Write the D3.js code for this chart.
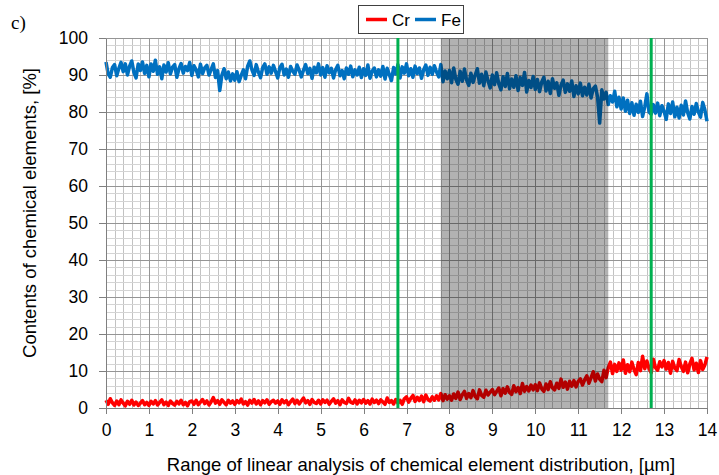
<!DOCTYPE html>
<html>
<head>
<meta charset="utf-8">
<script src="https://cdn.jsdelivr.net/npm/d3@7"></script>
<style>
  body { margin: 0; background: #fff; }
  svg { display: block; }
  text { font-family: "Liberation Sans", Arial, sans-serif; fill: #000; }
</style>
</head>
<body>
<div id="chart"></div>
<script>
// x positions run 0..14 um in steps of 0.05
var xStep = 0.05;

var feValues = [
  93.5, 90.3, 89.4, 92.0, 92.8, 89.8, 91.8, 93.4, 90.9, 93.0, 90.0, 92.4, 93.8, 90.7, 89.2, 93.0, 91.2, 93.5, 90.4, 92.6,
  89.5, 93.0, 91.0, 94.0, 90.2, 92.2, 89.0, 92.7, 90.8, 93.3, 90.3, 92.1, 92.8, 89.4, 91.7, 93.1, 90.5, 92.3, 91.2, 93.4,
  89.9, 92.5, 91.4, 89.5, 92.9, 90.4, 91.9, 92.6, 90.0, 91.5, 93.0, 89.3, 91.2, 85.8, 90.0, 91.7, 89.0, 90.8, 88.4, 90.3,
  88.6, 90.9, 88.2, 89.9, 91.4, 89.0, 92.4, 93.8, 91.4, 89.9, 92.8, 90.8, 89.3, 92.0, 93.0, 90.2, 92.2, 90.5, 92.6, 90.9,
  89.2, 92.0, 92.9, 90.0, 91.6, 89.4, 92.3, 91.0, 90.2, 92.7, 91.3, 89.5, 91.3, 92.8, 90.4, 91.8, 89.1, 92.1, 90.6, 93.0,
  90.0, 92.0, 89.4, 92.5, 90.6, 91.8, 89.2, 91.5, 92.6, 89.8, 91.2, 89.0, 91.9, 90.2, 92.4, 89.5, 91.4, 90.0, 92.1, 89.3,
  91.7, 89.9, 92.7, 89.1, 91.0, 91.9, 89.5, 91.4, 89.7, 92.3, 88.9, 91.8, 90.1, 88.5, 92.0, 90.3, 92.8, 89.2, 92.2, 90.5,
  93.0, 89.8, 91.7, 89.4, 92.4, 90.4, 91.9, 89.1, 91.4, 92.7, 89.9, 92.1, 90.2, 92.5, 90.8, 89.5, 92.8, 88.2, 91.1, 89.0,
  91.2, 87.9, 91.9, 88.8, 87.5, 91.0, 88.3, 91.6, 88.6, 87.2, 90.5, 88.0, 90.0, 91.7, 87.8, 90.2, 87.1, 90.8, 88.4, 86.5,
  90.0, 87.4, 90.6, 87.6, 86.0, 89.5, 86.9, 90.4, 86.3, 88.9, 86.7, 89.8, 85.8, 89.3, 87.2, 90.7, 85.4, 88.5, 86.6, 89.6,
  86.1, 88.8, 85.5, 88.1, 89.4, 85.7, 88.3, 85.0, 89.0, 86.4, 87.9, 84.5, 87.3, 88.6, 85.3, 87.6, 85.6, 88.4, 84.2, 87.1,
  84.9, 87.8, 84.4, 86.7, 84.6, 87.5, 83.8, 86.3, 87.0, 84.1, 77.0, 86.0, 83.5, 85.3, 82.0, 84.4, 82.7, 85.6, 81.4, 84.0,
  80.8, 83.8, 80.2, 83.2, 79.6, 82.5, 79.1, 82.1, 79.9, 82.9, 78.8, 81.4, 84.9, 80.0, 79.4, 82.0, 79.7, 82.4, 79.0, 81.7,
  80.2, 78.0, 82.2, 79.6, 82.7, 78.7, 81.3, 78.4, 81.8, 79.2, 83.0, 79.8, 78.1, 81.5, 79.4, 82.3, 80.0, 78.6, 82.6, 80.6,
  77.5
];

var crValues = [
  2.1, 1.0, 2.5, 1.4, 0.7, 1.9, 0.9, 2.2, 1.3, 0.6, 1.8, 1.0, 2.1, 0.8, 1.6, 0.7, 1.3, 2.0, 0.9, 1.5,
  0.7, 1.8, 1.1, 2.0, 0.8, 1.5, 2.2, 0.9, 1.6, 0.7, 1.9, 1.2, 0.8, 1.8, 1.1, 2.1, 0.9, 1.5, 0.6, 1.7,
  1.9, 1.0, 2.1, 0.9, 1.6, 2.3, 1.2, 1.9, 0.8, 1.7, 2.8, 1.3, 2.0, 1.0, 2.2, 1.5, 0.9, 2.1, 1.3, 1.9,
  1.0, 2.0, 1.4, 2.4, 1.1, 1.7, 0.8, 2.1, 1.3, 2.3, 1.1, 1.9, 0.9, 2.0, 1.4, 2.2, 1.0, 1.7, 2.1, 1.3,
  1.9, 1.0, 2.2, 1.4, 2.0, 0.9, 1.7, 2.4, 1.2, 2.1, 1.1, 1.9, 2.7, 1.4, 2.0, 1.0, 2.3, 1.5, 1.2, 2.1,
  1.1, 2.2, 1.5, 2.1, 1.0, 1.8, 2.5, 1.3, 2.0, 0.9, 2.2, 1.5, 1.2, 2.6, 1.6, 1.3, 2.2, 1.1, 2.1, 1.4,
  2.3, 1.3, 2.0, 1.1, 2.4, 1.5, 2.1, 1.2, 2.2, 1.6, 1.0, 2.7, 1.5, 2.0, 1.1, 2.3, 1.3, 2.1, 1.0, 2.5,
  3.0, 1.6, 2.6, 3.4, 1.8, 2.9, 2.0, 3.2, 1.7, 3.5, 2.3, 1.9, 3.0, 2.1, 3.3, 2.2, 3.9, 2.0, 3.6, 2.4,
  3.3, 2.1, 3.8, 2.6, 4.3, 2.3, 3.6, 4.5, 2.6, 3.9, 2.8, 4.7, 3.1, 2.5, 4.9, 3.4, 2.9, 4.8, 3.5, 4.3,
  5.0, 3.6, 4.5, 5.4, 3.3, 5.2, 4.0, 5.7, 4.2, 3.7, 6.0, 4.4, 5.5, 3.9, 6.6, 4.5, 5.8, 4.6, 6.2, 4.9,
  6.3, 4.7, 6.8, 5.2, 4.5, 6.5, 5.0, 7.1, 5.4, 4.9, 6.7, 5.3, 7.8, 5.6, 7.0, 5.1, 7.2, 5.9, 7.4, 5.7,
  7.2, 7.9, 6.2, 7.6, 8.7, 6.7, 8.2, 9.8, 7.3, 9.2, 7.8, 7.1, 10.2, 8.2, 10.9, 12.4, 9.3, 11.8, 9.9, 12.2,
  10.2, 13.0, 9.4, 11.7, 9.8, 12.4, 10.4, 9.0, 12.3, 10.1, 14.0, 10.6, 12.7, 10.7, 9.5, 13.2, 10.9, 10.2, 12.5, 11.1,
  12.8, 10.5, 12.3, 9.4, 12.6, 10.8, 10.1, 13.1, 11.2, 9.9, 12.4, 9.5, 11.9, 13.4, 10.3, 12.1, 9.6, 12.8, 10.4, 11.6,
  13.8
];

var xTicks = [0, 1, 2, 3, 4, 5, 6, 7, 8, 9, 10, 11, 12, 13, 14];
var yTicks = [0, 10, 20, 30, 40, 50, 60, 70, 80, 90, 100];
var greenLines = [6.8, 12.7];
var shadedZone = [7.8, 11.7];

var width = 719, height = 475;
var margin = { top: 38, right: 12, bottom: 67, left: 106 };

var svg = d3.select("#chart").append("svg")
  .attr("width", width)
  .attr("height", height);

var x = d3.scaleLinear().domain([0, 14]).range([margin.left, width - margin.right]);
var y = d3.scaleLinear().domain([0, 100]).range([height - margin.bottom, margin.top]);

// grid: minor first, major on top
var minorX = d3.range(0, 14.001, 0.2);
var minorY = d3.range(0, 100.001, 2);
var grid = svg.append("g").attr("shape-rendering", "crispEdges");

grid.selectAll(".minor-x").data(minorX).enter().append("line")
  .attr("x1", function (d) { return Math.round(x(d)) + 0.5; })
  .attr("x2", function (d) { return Math.round(x(d)) + 0.5; })
  .attr("y1", y(0)).attr("y2", y(100))
  .attr("stroke", "#c2c2c2");

grid.selectAll(".minor-y").data(minorY).enter().append("line")
  .attr("y1", function (d) { return Math.round(y(d)) + 0.5; })
  .attr("y2", function (d) { return Math.round(y(d)) + 0.5; })
  .attr("x1", x(0)).attr("x2", x(14))
  .attr("stroke", "#d4d4d4");

grid.selectAll(".major-x").data(xTicks).enter().append("line")
  .attr("x1", function (d) { return Math.round(x(d)) + 0.5; })
  .attr("x2", function (d) { return Math.round(x(d)) + 0.5; })
  .attr("y1", y(0)).attr("y2", y(100))
  .attr("stroke", "#959595");

grid.selectAll(".major-y").data(yTicks).enter().append("line")
  .attr("y1", function (d) { return Math.round(y(d)) + 0.5; })
  .attr("y2", function (d) { return Math.round(y(d)) + 0.5; })
  .attr("x1", x(0)).attr("x2", x(14))
  .attr("stroke", "#959595");

// data lines
function lineFor(values) {
  return d3.line()
    .x(function (d, i) { return x(i * xStep); })
    .y(function (d) { return y(d); })(values);
}

svg.append("path")
  .attr("d", lineFor(feValues))
  .attr("fill", "none")
  .attr("stroke", "#0070c0")
  .attr("stroke-width", 3.5)
  .attr("stroke-linejoin", "round");

svg.append("path")
  .attr("d", lineFor(crValues))
  .attr("fill", "none")
  .attr("stroke", "#ff0000")
  .attr("stroke-width", 3.5)
  .attr("stroke-linejoin", "round");

// shaded zone sits on top of the lines (darkens them)
svg.append("rect")
  .attr("x", x(shadedZone[0]))
  .attr("y", y(100))
  .attr("width", x(shadedZone[1]) - x(shadedZone[0]))
  .attr("height", y(0) - y(100))
  .attr("fill", "#000")
  .attr("fill-opacity", 0.3);

svg.selectAll(".green").data(greenLines).enter().append("line")
  .attr("x1", function (d) { return x(d); })
  .attr("x2", function (d) { return x(d); })
  .attr("y1", y(0)).attr("y2", y(100))
  .attr("stroke", "#00b050")
  .attr("stroke-width", 3);

// axes
var xAxis = d3.axisBottom(x).tickValues(xTicks).tickSize(6).tickSizeOuter(0).tickPadding(10);
var yAxis = d3.axisLeft(y).tickValues(yTicks).tickSize(7).tickSizeOuter(0).tickPadding(11);

var gx = svg.append("g")
  .attr("transform", "translate(0," + y(0) + ")")
  .call(xAxis);
var gy = svg.append("g")
  .attr("transform", "translate(" + x(0) + ",0)")
  .call(yAxis);

[gx, gy].forEach(function (g) {
  g.select(".domain").attr("stroke", "#7f7f7f").attr("shape-rendering", "crispEdges");
  g.selectAll(".tick line").attr("stroke", "#7f7f7f").attr("shape-rendering", "crispEdges");
  g.selectAll(".tick text")
    .style("font-family", "'Liberation Sans', Arial, sans-serif")
    .style("font-size", "17.5px")
    .attr("fill", "#000");
});

// titles
svg.append("text")
  .attr("x", 421)
  .attr("y", 471)
  .attr("text-anchor", "middle")
  .style("font-size", "18.5px")
  .text("Range of linear analysis of chemical element distribution, [µm]");

svg.append("text")
  .attr("transform", "translate(36,213) rotate(-90)")
  .attr("text-anchor", "middle")
  .style("font-size", "18.5px")
  .text("Contents of chemical elements, [%]");

svg.append("text")
  .attr("x", 11)
  .attr("y", 29)
  .style("font-family", "'Liberation Serif', 'Times New Roman', serif")
  .style("font-size", "19px")
  .text("c)");

// legend
var legend = svg.append("g").attr("transform", "translate(358,5)");
legend.append("rect")
  .attr("x", 0.5).attr("y", 0.5)
  .attr("width", 105).attr("height", 28)
  .attr("fill", "#fff")
  .attr("stroke", "#404040");

var legendItems = [
  { name: "Cr", color: "#ff0000", dx: 8 },
  { name: "Fe", color: "#0070c0", dx: 57 }
];
legendItems.forEach(function (item) {
  legend.append("line")
    .attr("x1", item.dx).attr("x2", item.dx + 21)
    .attr("y1", 14.5).attr("y2", 14.5)
    .attr("stroke", item.color)
    .attr("stroke-width", 3.5);
  legend.append("text")
    .attr("x", item.dx + 26)
    .attr("y", 20.5)
    .style("font-size", "17px")
    .text(item.name);
});
</script>
</body>
</html>
